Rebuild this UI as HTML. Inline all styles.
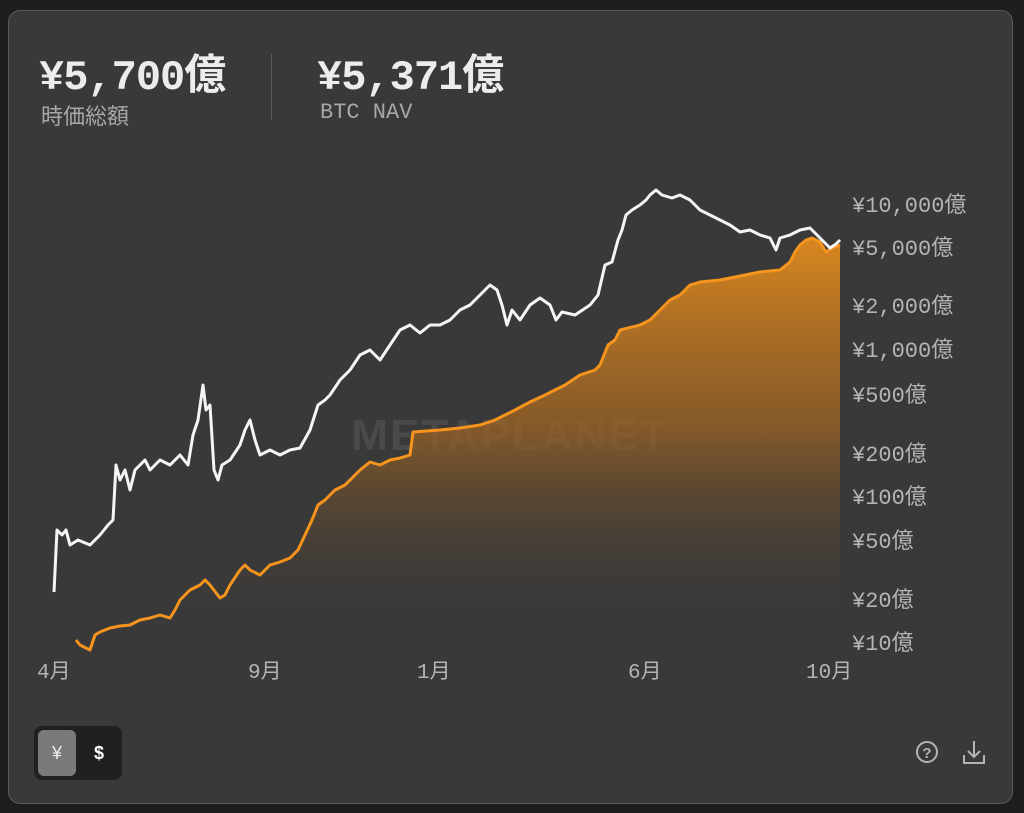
<!DOCTYPE html>
<html><head><meta charset="utf-8"><style>
html,body{margin:0;padding:0;background:#1e1e1e;width:1024px;height:813px;overflow:hidden}
.card{position:absolute;left:8px;top:10px;width:1005px;height:794px;background:#393939;border:1px solid #5a5a5a;border-radius:12px;box-sizing:border-box}
.t{position:absolute;font-family:"Liberation Mono","Noto Sans CJK JP",monospace;}
.big{font-size:42px;font-weight:bold;color:#ececec;letter-spacing:-1px}
.sub{font-size:22px;color:#a8a8a8}
.yl{position:absolute;left:852px;font-family:"Liberation Mono","Noto Sans CJK JP",monospace;font-size:22px;color:#b4b4b4;transform:translateY(-50%)}
.xl{position:absolute;top:655px;font-family:"Liberation Mono","Noto Sans CJK JP",monospace;font-size:21px;color:#b4b4b4}
</style></head><body>
<div class="card"></div>
<div class="t big" style="left:39px;top:41px">¥5,700億</div>
<div class="t sub" style="left:41px;top:99px">時価総額</div>
<div style="position:absolute;left:271px;top:54px;width:1px;height:66px;background:#5a5a5a"></div>
<div class="t big" style="left:317px;top:41px">¥5,371億</div>
<div class="t sub" style="left:320px;top:100px">BTC NAV</div>

<svg style="position:absolute;left:0;top:0" width="1024" height="813">
<defs><linearGradient id="g" gradientUnits="userSpaceOnUse" x1="0" y1="240" x2="0" y2="625">
<stop offset="0" stop-color="#e08a1e" stop-opacity="0.95"/><stop offset="0.5" stop-color="#9a6224" stop-opacity="0.75"/><stop offset="1" stop-color="#393939" stop-opacity="0"/></linearGradient></defs>
<text x="510" y="450" text-anchor="middle" font-family="Liberation Sans,sans-serif" font-weight="bold" font-size="44" fill="#4c4c4c" fill-opacity="0.9" letter-spacing="2">METAPLANET</text>
<path d="M76,640 L80,645 90,650 95,635 100,632 110,628 120,626 130,625 140,620 150,618 160,615 170,618 175,610 180,600 190,590 200,585 205,580 210,585 220,598 225,595 230,585 240,570 245,565 250,570 260,575 270,565 280,562 290,558 298,550 305,535 312,520 318,505 325,500 335,490 345,485 350,480 360,470 370,462 380,465 390,460 400,458 410,455 413,432 440,430 460,428 480,425 495,420 505,415 515,410 530,402 545,395 555,390 565,385 580,375 595,370 600,365 608,345 615,340 620,330 640,325 650,320 660,310 670,300 680,295 690,285 700,282 720,280 740,276 760,272 780,270 790,262 795,252 800,245 806,240 812,238 820,242 826,252 832,248 840,245 L840,625 L76,625 Z" fill="url(#g)"/>
<polyline fill="none" stroke="#f7941d" stroke-width="3" stroke-linejoin="round" points="76,640 80,645 90,650 95,635 100,632 110,628 120,626 130,625 140,620 150,618 160,615 170,618 175,610 180,600 190,590 200,585 205,580 210,585 220,598 225,595 230,585 240,570 245,565 250,570 260,575 270,565 280,562 290,558 298,550 305,535 312,520 318,505 325,500 335,490 345,485 350,480 360,470 370,462 380,465 390,460 400,458 410,455 413,432 440,430 460,428 480,425 495,420 505,415 515,410 530,402 545,395 555,390 565,385 580,375 595,370 600,365 608,345 615,340 620,330 640,325 650,320 660,310 670,300 680,295 690,285 700,282 720,280 740,276 760,272 780,270 790,262 795,252 800,245 806,240 812,238 820,242 826,252 832,248 840,245"/>
<polyline fill="none" stroke="#f5f5f5" stroke-width="3" stroke-linejoin="round" points="54,592 57,530 62,535 66,530 70,545 78,540 90,545 100,535 108,525 113,520 116,465 120,480 125,470 130,490 135,470 140,465 145,460 150,470 160,460 170,465 180,455 188,465 193,435 198,420 203,385 206,410 210,405 214,470 218,480 222,465 230,460 240,445 245,430 250,420 255,440 260,455 270,450 280,455 290,450 300,448 310,430 318,405 325,400 330,395 340,380 350,370 360,355 370,350 380,360 390,345 400,330 410,325 420,333 430,325 440,325 450,320 460,310 470,305 480,295 490,285 497,290 502,305 507,325 512,310 520,320 530,305 540,298 550,305 556,320 562,312 575,315 590,305 598,295 605,265 612,262 618,240 622,230 626,215 632,210 640,205 646,200 650,195 656,190 662,195 672,198 680,195 690,200 700,210 710,215 720,220 730,225 740,232 750,230 760,235 770,238 776,250 780,238 790,235 800,230 810,228 820,238 830,248 836,244 840,240"/>
<circle cx="927" cy="752" r="10" fill="none" stroke="#b4b4b4" stroke-width="2"/>
<text x="927" y="758" text-anchor="middle" font-family="Liberation Sans,sans-serif" font-size="15" font-weight="bold" fill="#b4b4b4">?</text>
<path d="M974,741 V757 M968,751 L974,757 980,751 M964,755 V763 H984 V755" fill="none" stroke="#b4b4b4" stroke-width="2"/>
</svg>
<div class="yl" style="top:203px">¥10,000億</div>
<div class="yl" style="top:246px">¥5,000億</div>
<div class="yl" style="top:304px">¥2,000億</div>
<div class="yl" style="top:348px">¥1,000億</div>
<div class="yl" style="top:393px">¥500億</div>
<div class="yl" style="top:452px">¥200億</div>
<div class="yl" style="top:495px">¥100億</div>
<div class="yl" style="top:539px">¥50億</div>
<div class="yl" style="top:598px">¥20億</div>
<div class="yl" style="top:641px">¥10億</div>
<div class="xl" style="left:37px">4月</div>
<div class="xl" style="left:248px">9月</div>
<div class="xl" style="left:417px">1月</div>
<div class="xl" style="left:628px">6月</div>
<div class="xl" style="left:806px">10月</div>
<div style="position:absolute;left:34px;top:726px;width:88px;height:54px;background:#202020;border-radius:8px"></div>
<div style="position:absolute;left:38px;top:730px;width:38px;height:46px;background:#7a7a7a;border-radius:6px;color:#eee;font:18px 'Liberation Sans',sans-serif;text-align:center;line-height:46px">¥</div>
<div style="position:absolute;left:82px;top:730px;width:34px;height:46px;color:#fff;font:bold 18px 'Liberation Sans',sans-serif;text-align:center;line-height:46px">$</div>
</body></html>
